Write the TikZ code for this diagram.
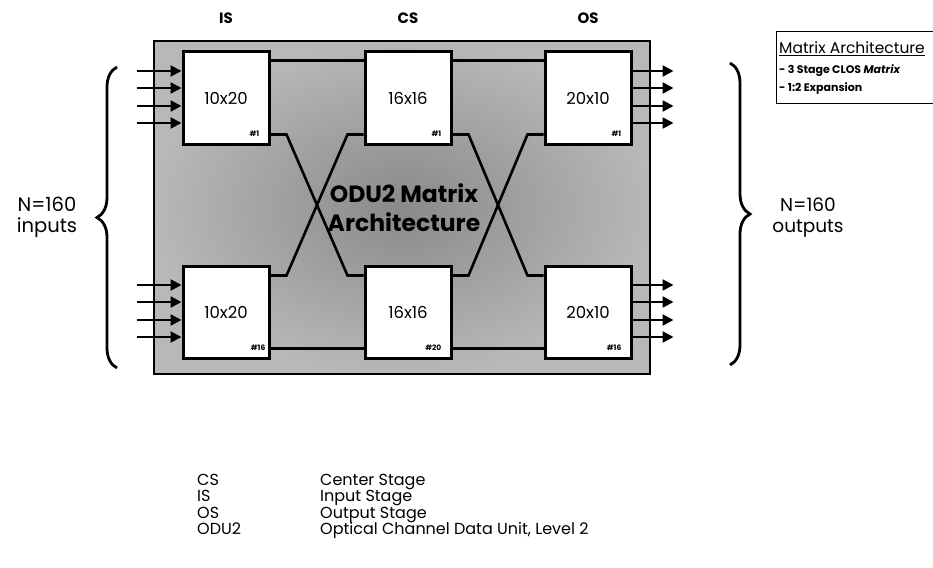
\documentclass[tikz,border=0pt]{standalone}
\usepackage{fontspec}
\setmainfont{Poppins}
\usetikzlibrary{arrows.meta, positioning, calc, decorations.pathreplacing}
\definecolor{swdark}{gray}{0.54}
\definecolor{swlight}{gray}{0.72}
\tikzset{
  stagebox/.style={draw, line width=3pt, fill=white, minimum width=86pt, minimum height=92pt, inner sep=0pt, font=\fontsize{16.5}{18}\selectfont},
  tag/.style={anchor=south east, inner sep=1pt, font=\fontsize{7.5}{8}\selectfont\bfseries},
  hdr/.style={font=\fontsize{15}{17}\selectfont\bfseries},
  link/.style={line width=2.6pt},
  port/.style={-{Triangle[length=11pt, width=11pt]}, line width=2.3pt},
  brc/.style={decorate, decoration={brace, amplitude=20pt}, line width=2.8pt},
  key/.style={anchor=base west, inner sep=0pt, font=\fontsize{16}{18}\selectfont}
}

\begin{document}
\begin{tikzpicture}[x=1pt, y=-1pt]
                \useasboundingbox (0,0) rectangle (933,567);
                % switch fabric area
                \shadedraw[line width=2.2pt, inner color=swdark, outer color=swlight] (154,41) rectangle (650,374);
                % stages
                \node[stagebox] (is1) at (226,98) {10x20};
                \node[stagebox] (cs1) at (408,98) {16x16};
                \node[stagebox] (os1) at (588,98) {20x10};
                \node[stagebox] (is2) at (226,312) {10x20};
                \node[stagebox] (cs2) at (408,312) {16x16};
                \node[stagebox] (os2) at (588,312) {20x10};
                \node[tag] (is1n) at ($(is1.south east)+(-10,-8)$) {\#1};
                \node[tag] (cs1n) at ($(cs1.south east)+(-10,-8)$) {\#1};
                \node[tag] (os1n) at ($(os1.south east)+(-10,-8)$) {\#1};
                \node[tag] (is2n) at ($(is2.south east)+(-4,-8)$) {\#16};
                \node[tag] (cs2n) at ($(cs2.south east)+(-10,-8)$) {\#20};
                \node[tag] (os2n) at ($(os2.south east)+(-10,-8)$) {\#16};
                \node[hdr] (ish) at ($(is1.north)+(0,-32)$) {IS};
                \node[hdr] (csh) at ($(cs1.north)+(0,-32)$) {CS};
                \node[hdr] (osh) at ($(os1.north)+(0,-32)$) {OS};
                \node[align=center, font=\fontsize{23.5}{29}\selectfont\bfseries] (title) at (404,208) {ODU2 Matrix\\Architecture};
                % links
                \draw[link] ($(is1.north east)+(0,10)$) -- ($(cs1.north west)+(0,10)$);
                \draw[link] ($(cs1.north east)+(0,10)$) -- ($(os1.north west)+(0,10)$);
                \draw[link] ($(is2.south east)+(0,-11)$) -- ($(cs2.south west)+(0,-11)$);
                \draw[link] ($(cs2.south east)+(0,-11)$) -- ($(os2.south west)+(0,-11)$);
                \draw[link] ($(is1.south east)+(0,-11)$) -- ++(16,0) -- ($(cs2.north west)+(-16,11)$) -- ($(cs2.north west)+(0,11)$);
                \draw[link] ($(cs1.south west)+(0,-11)$) -- ++(-16,0) -- ($(is2.north east)+(16,11)$) -- ($(is2.north east)+(0,11)$);
                \draw[link] ($(cs1.south east)+(0,-11)$) -- ++(16,0) -- ($(os2.north west)+(-16,11)$) -- ($(os2.north west)+(0,11)$);
                \draw[link] ($(os1.south west)+(0,-11)$) -- ++(-16,0) -- ($(cs2.north east)+(16,11)$) -- ($(cs2.north east)+(0,11)$);
                % ports
                \foreach \dy in {-27,-10,8,25} {
                    \draw[port] ($(is1.west)+(-45,\dy)$) -- ($(is1.west)+(0,\dy)$);
                    \draw[port] ($(is2.west)+(-45,\dy)$) -- ($(is2.west)+(0,\dy)$);
                    \draw[port] ($(os1.east)+(0,\dy)$) -- ($(os1.east)+(41,\dy)$);
                    \draw[port] ($(os2.east)+(0,\dy)$) -- ($(os2.east)+(41,\dy)$);
                }
                % braces
                \draw[brc] (117,368) -- (117,67);
                \draw[brc] (730,63) -- (730,365);
                \node[align=center, font=\fontsize{19.5}{21}\selectfont] (nin) at (47,217) {N=160\\inputs};
                \node[align=center, font=\fontsize{18.5}{21}\selectfont] (nout) at (808,218) {N=160\\outputs};
                % matrix legend
                \node[draw, line width=1.4pt, anchor=north west, minimum width=170pt, minimum height=72pt] (legend) at (776,31) {};
                \node[anchor=west, inner sep=0pt, font=\fontsize{15.5}{17}\selectfont] (lgh) at ($(legend.north west)+(3,18)$) {\underline{Matrix Architecture}};
                \node[anchor=west, inner sep=0pt, font=\fontsize{11}{12}\selectfont\bfseries] (lg1) at ($(legend.north west)+(3,40)$) {- 3 Stage CLOS \textit{Matrix}};
                \node[anchor=west, inner sep=0pt, font=\fontsize{11}{12}\selectfont\bfseries] (lg2) at ($(legend.north west)+(3,58)$) {- 1:2 Expansion};
                % abbreviations
                \node[key] (kcs) at (197,485) {CS};
                \node[key] (kis) at (197,501.5) {IS};
                \node[key] (kos) at (197,518) {OS};
                \node[key] (kodu) at (197,534.5) {ODU2};
                \node[key] (dcs) at (320,485) {Center Stage};
                \node[key] (dis) at (320,501.5) {Input Stage};
                \node[key] (dos) at (320,518) {Output Stage};
                \node[key] (dodu) at (320,534.5) {Optical Channel Data Unit, Level 2};
            \end{tikzpicture}
\end{document}
